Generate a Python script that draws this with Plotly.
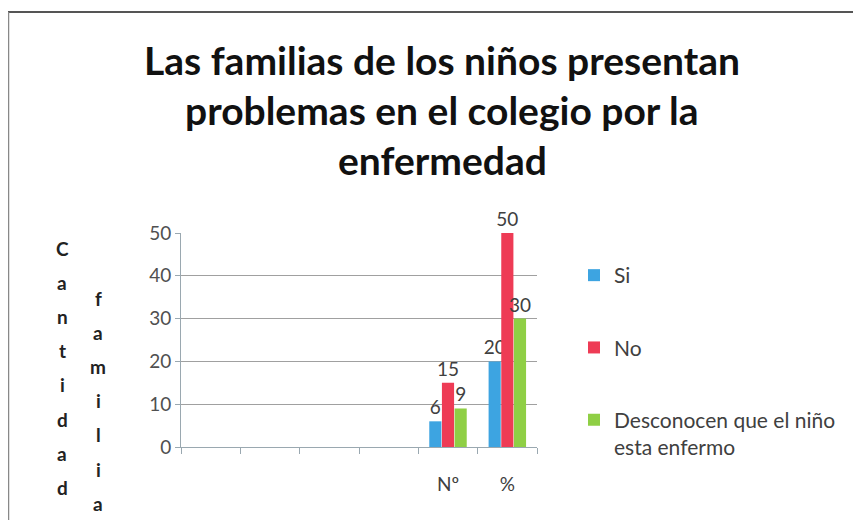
import plotly.graph_objects as go

# ---- data ----
categories = [" ", "  ", "   ", "    ", "Nº", "%"]
bar_categories = ["Nº", "%"]
si_values = [6, 20]
no_values = [15, 50]
desc_values = [9, 30]
series_names = ["Si", "No", "Desconocen que el niño<br>esta enfermo"]
y_ticks = [0, 10, 20, 30, 40, 50]
title_lines = ["Las familias de los niños presentan",
               "problemas en el colegio por la",
               "enfermedad"]
ytitle_col1 = "Cantidad"
ytitle_col2 = "familia"

# ---- layout geometry (page pixels; the page body has an 8px margin) ----
OFF = 8
W, H = 861 - OFF, 520 - OFF
PL, PR, PT, PB = 181 - OFF, 537 - OFF, 233 - OFF, 447 - OFF  # plot area box (fig px)


def px_x(page_x):
    return (page_x - OFF - PL) / (PR - PL)


def px_y(page_y):
    return (PB - (page_y - OFF)) / (PB - PT)


colors = ["#3DA4E1", "#EE3B55", "#8FCF45"]
FONT = "Lato"

fig = go.Figure()
for name, vals, col in zip(series_names, [si_values, no_values, desc_values], colors):
    fig.add_trace(go.Bar(
        x=bar_categories, y=vals, name=name, legendgroup=name,
        marker=dict(color=col, line=dict(width=0)),
        text=[str(v) for v in vals], textposition="outside",
        constraintext="none",
        textfont=dict(size=19, color="#404040", family=FONT),
        cliponaxis=False,
    ))

annotations = []
for i, line in enumerate(title_lines):
    annotations.append(dict(
        text="<b>%s</b>" % line, x=px_x(442), y=px_y(60 + 50 * i), xref="paper", yref="paper",
        xanchor="center", yanchor="middle", showarrow=False,
        font=dict(size=39, color="#111111", family=FONT),
    ))
for i, ch in enumerate(ytitle_col1):
    annotations.append(dict(
        text="<b>%s</b>" % ch, x=px_x(62), y=px_y(248 + 34.2 * i), xref="paper", yref="paper",
        xanchor="center", yanchor="middle", showarrow=False,
        font=dict(size=19, color="#222222", family=FONT),
    ))
for i, ch in enumerate(ytitle_col2):
    annotations.append(dict(
        text="<b>%s</b>" % ch, x=px_x(98), y=px_y(298 + 34.2 * i), xref="paper", yref="paper",
        xanchor="center", yanchor="middle", showarrow=False,
        font=dict(size=19, color="#222222", family=FONT),
    ))

shapes = [
    dict(type="line", xref="paper", yref="paper", x0=px_x(8), x1=px_x(861), y0=px_y(12), y1=px_y(12),
         line=dict(color="#555555", width=2)),
    dict(type="line", xref="paper", yref="paper", x0=px_x(8.5), x1=px_x(8.5), y0=px_y(12), y1=px_y(520),
         line=dict(color="#888888", width=1.5)),
]

fig.update_layout(
    width=W, height=H,
    margin=dict(l=PL, r=W - PR, t=PT, b=H - PB, pad=0),
    paper_bgcolor="white", plot_bgcolor="white",
    font=dict(family=FONT, color="#404040"),
    barmode="group", bargap=0.36, bargroupgap=0.04,
    showlegend=True,
    legend=dict(x=px_x(574), y=px_y(255), xanchor="left", yanchor="top",
                font=dict(size=21, color="#404040", family=FONT),
                tracegroupgap=42, valign="top", itemwidth=30,
                maxheight=420,
                bgcolor="rgba(0,0,0,0)"),
    annotations=annotations,
    shapes=shapes,
)
fig.update_xaxes(
    type="category", categoryorder="array", categoryarray=categories,
    range=[-0.5, len(categories) - 0.5],
    showline=True, linecolor="#9aa8b0", linewidth=1,
    ticks="outside", tickson="boundaries", ticklen=6, tickcolor="#9aa8b0",
    ticklabelstandoff=20, tickfont=dict(size=19, color="#404040"),
    showgrid=False, fixedrange=True,
)
fig.update_yaxes(
    range=[0, 50], tickvals=y_ticks,
    showline=True, linecolor="#9aa8b0", linewidth=1,
    ticks="outside", ticklen=5, tickcolor="#9aa8b0",
    tickfont=dict(size=19, color="#505050"),
    showgrid=True, gridcolor="#a0a0a0", gridwidth=1,
    zeroline=False,
)

fig.write_html("out.html")
